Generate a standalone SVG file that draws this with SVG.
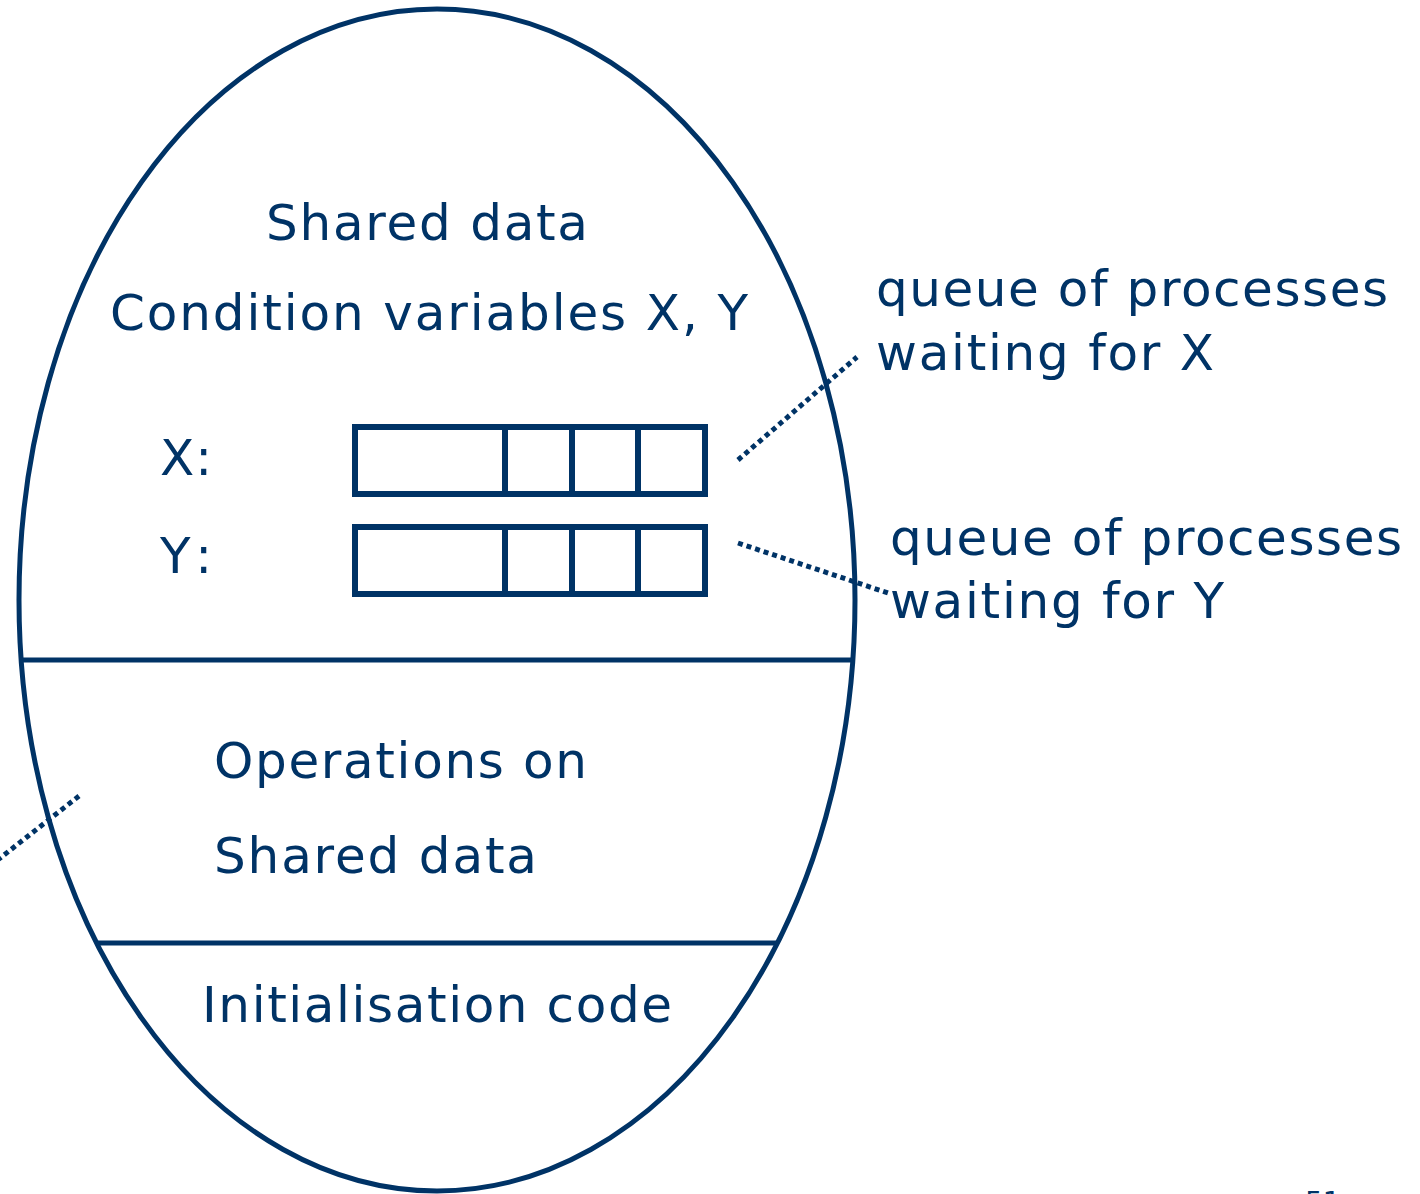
<svg xmlns="http://www.w3.org/2000/svg" width="1420" height="1194" viewBox="0 0 1420 1194">
<style>
.ln{fill:none;stroke:#003366;stroke-width:5}
.bx{fill:none;stroke:#003366;stroke-width:6}
.dot{fill:none;stroke:#003366;stroke-width:5;stroke-dasharray:5 4}
text{font-family:"DejaVu Sans","Verdana",sans-serif;font-size:50px;fill:#003366}
</style>
<rect width="1420" height="1194" fill="#ffffff"/>
<g id="monitor">
<ellipse class="ln" cx="437" cy="600" rx="418" ry="591"/>
<line class="ln" x1="20" y1="660" x2="854" y2="660"/>
<line class="ln" x1="96" y1="943" x2="776" y2="943"/>
</g>
<g id="shared-data">
<text x="266" y="240" textLength="322">Shared data</text>
<text x="110" y="330" textLength="638">Condition variables X, Y</text>
</g>
<g id="queue-x">
<text x="160" y="475" textLength="52">X:</text>
<rect class="bx" x="355" y="427" width="350" height="67"/>
<line class="bx" x1="505" y1="427" x2="505" y2="494"/>
<line class="bx" x1="572" y1="427" x2="572" y2="494"/>
<line class="bx" x1="638" y1="427" x2="638" y2="494"/>
</g>
<g id="queue-y">
<text x="160" y="573" textLength="52">Y:</text>
<rect class="bx" x="355" y="527" width="350" height="67"/>
<line class="bx" x1="505" y1="527" x2="505" y2="594"/>
<line class="bx" x1="572" y1="527" x2="572" y2="594"/>
<line class="bx" x1="638" y1="527" x2="638" y2="594"/>
</g>
<g id="operations">
<text x="214" y="778" textLength="373">Operations on</text>
<text x="214" y="873" textLength="323">Shared data</text>
</g>
<g id="init">
<text x="202" y="1022" textLength="470">Initialisation code</text>
</g>
<g id="label-x">
<text x="876" y="306" textLength="512">queue of processes</text>
<text x="876" y="370" textLength="338">waiting for X</text>
</g>
<g id="label-y">
<text x="890" y="555" textLength="512">queue of processes</text>
<text x="890" y="618" textLength="334">waiting for Y</text>
</g>
<g id="page-number">
<text x="1305" y="1212" style="font-size:28px">51</text>
</g>
<g id="connectors">
<line class="dot" x1="738" y1="460" x2="857" y2="357"/>
<line class="dot" x1="738" y1="543" x2="888" y2="593"/>
<line class="dot" x1="79" y1="796" x2="-10" y2="866"/>
</g>
</svg>
